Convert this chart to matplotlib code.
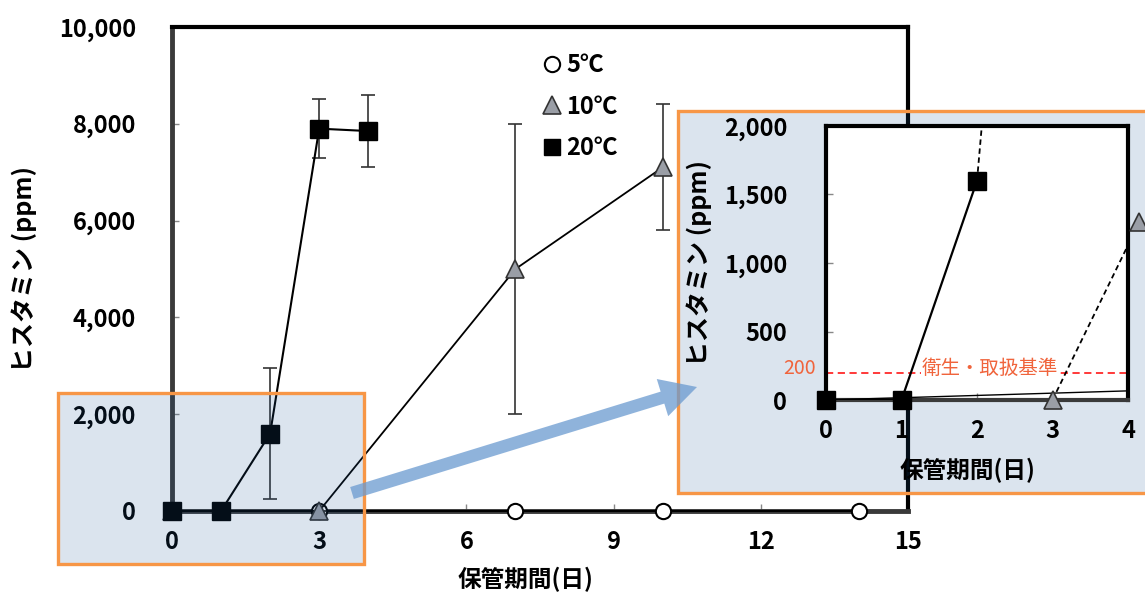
import matplotlib
matplotlib.use("Agg")
import matplotlib.pyplot as plt
from matplotlib.lines import Line2D
from matplotlib.patches import Rectangle, FancyArrowPatch
from matplotlib.ticker import FuncFormatter

plt.rcParams['font.family'] = ['Noto Sans CJK JP', 'DejaVu Sans']

# ---- data ----
days_5c = [0, 3, 7, 10, 14]
vals_5c = [0, 0, 0, 0, 0]

days_10c = [0, 3, 7, 10]
vals_10c = [0, 0, 5000, 7100]
err_10c = [0, 0, 3000, 1300]

days_20c = [0, 1, 2, 3, 4]
vals_20c = [0, 0, 1600, 7900, 7850]
err_20c = [0, 0, 1350, 610, 740]

legend_labels = ['5℃', '10℃', '20℃']
x_ticks_main = [0, 3, 6, 9, 12, 15]
y_ticks_main = [0, 2000, 4000, 6000, 8000, 10000]

# inset (zoom of 0-4 days, 0-2000 ppm)
x_ticks_inset = [0, 1, 2, 3, 4]
y_ticks_inset = [0, 500, 1000, 1500, 2000]
inset_5c_x = [0, 4.2]
inset_5c_y = [0, 70]
inset_10c_x = [3, 4.15]
inset_10c_y = [0, 1300]
standard_value = 200
standard_label = '衛生・取扱基準'

xlabel = '保管期間(日)'
ylabel = 'ヒスタミン (ppm)'

W, H = 1145, 596
fig = plt.figure(figsize=(W / 100, H / 100), dpi=100)


def fx(px):
    return px / W


def fy(py):
    return 1 - py / H


comma_fmt = FuncFormatter(lambda v, p: f'{int(v):,}')

# ---- main axes ----
ax = fig.add_axes([fx(172), fy(511), fx(908) - fx(172), fy(27) - fy(511)])
ax.set_xlim(0, 15)
ax.set_ylim(0, 10000)

ax.plot(days_5c, vals_5c, color='black', lw=1.5, zorder=3, clip_on=False)
ax.plot(days_5c, vals_5c, ls='none', marker='o', ms=11, mfc='white',
        mec='black', mew=1.5, zorder=4, clip_on=False)

ax.errorbar(days_10c, vals_10c, yerr=err_10c, color='black', lw=1.3,
            ecolor='#333333', elinewidth=1.2, capsize=5, capthick=1.2,
            marker='^', ms=13, mfc='#9a9ea6', mec='#333333', mew=1.2,
            zorder=5, clip_on=False)

ax.errorbar(days_20c, vals_20c, yerr=err_20c, color='black', lw=1.5,
            ecolor='#333333', elinewidth=1.2, capsize=5, capthick=1.2,
            marker='s', ms=13, mfc='black', mec='black',
            zorder=6, clip_on=False)

ax.set_xticks(x_ticks_main)
ax.set_yticks(y_ticks_main)
ax.yaxis.set_major_formatter(comma_fmt)
ax.tick_params(direction='in', length=5, width=1, color='#888888',
               labelsize=17, pad=0)
ax.tick_params(axis='y', pad=26)
ax.tick_params(axis='x', pad=14)
for lab in ax.get_xticklabels() + ax.get_yticklabels():
    lab.set_fontweight('bold')

for side in ['top', 'right']:
    ax.spines[side].set_linewidth(3)
    ax.spines[side].set_color('black')
for side in ['left', 'bottom']:
    ax.spines[side].set_linewidth(3.5)
    ax.spines[side].set_color('#3a3a3a')

ax.set_xlabel(xlabel, fontsize=17, fontweight='bold')
ax.xaxis.set_label_coords((525 - 172) / (908 - 172), -(567 - 511) / (511 - 27))
ax.set_ylabel(ylabel, fontsize=18, fontweight='bold')
ax.yaxis.set_label_coords(-(172 - 37) / (908 - 172), 0.5)

handles = [
    Line2D([], [], ls='none', marker='o', ms=11, mfc='white', mec='black', mew=1.5),
    Line2D([], [], ls='none', marker='^', ms=13, mfc='#9a9ea6', mec='#333333', mew=1.2),
    Line2D([], [], ls='none', marker='s', ms=12, mfc='black', mec='black'),
]
leg = ax.legend(handles, legend_labels, loc='upper left',
                bbox_to_anchor=((545 - 172) / (908 - 172), (511 - 53) / (511 - 27)),
                frameon=False, handlelength=0.6, handletextpad=0.3,
                labelspacing=0.75, borderaxespad=0, borderpad=0,
                prop={'size': 17, 'weight': 'bold'})

# ---- highlight boxes ----
box_fill = (0.12, 0.35, 0.60, 0.16)
orange = '#f79646'
fig.patches.append(Rectangle((fx(58), fy(564)), fx(364) - fx(58), fy(393) - fy(564),
                             transform=fig.transFigure, facecolor=box_fill,
                             edgecolor=orange, lw=2.4, zorder=2))
fig.patches.append(Rectangle((fx(678), fy(493)), fx(1160) - fx(678), fy(111) - fy(493),
                             transform=fig.transFigure, facecolor=box_fill,
                             edgecolor=orange, lw=2.4, zorder=2))

arrow = FancyArrowPatch((fx(352), fy(493)), (fx(697), fy(387)),
                        transform=fig.transFigure,
                        arrowstyle='simple,head_width=28,head_length=26,tail_width=9',
                        mutation_scale=1, color='#6a9ad0', alpha=0.75,
                        lw=0, shrinkA=0, shrinkB=0, zorder=3)
fig.patches.append(arrow)

# ---- inset axes ----
ax2 = fig.add_axes([fx(826), fy(400), fx(1128) - fx(826), fy(126) - fy(400)],
                   zorder=5)
ax2.set_xlim(0, 4)
ax2.set_ylim(0, 2000)

ax2.axhline(standard_value, color='#ff2a2a', lw=1.3, ls=(0, (4, 2.5)), zorder=2)
ax2.text(2.17, standard_value + 30, standard_label, color='#f0643c', fontsize=14,
         ha='center', va='center', zorder=3,
         bbox=dict(facecolor='white', edgecolor='none', pad=0.5))
ax2.text(-0.14, standard_value + 30, str(standard_value), color='#f0643c', fontsize=14,
         ha='right', va='center', transform=ax2.transData, clip_on=False)

ax2.plot(inset_5c_x, inset_5c_y, color='black', lw=1.0, zorder=3)
ax2.plot(days_20c[:3], vals_20c[:3], color='black', lw=1.6, zorder=4)
ax2.plot(days_20c[2:4], vals_20c[2:4], color='black', lw=1.3, ls=(0, (3, 2)), zorder=4)
ax2.plot(inset_10c_x, inset_10c_y, color='black', lw=1.3, ls=(0, (3, 2)), zorder=4)
ax2.plot(inset_10c_x, inset_10c_y, ls='none', marker='^', ms=13, mfc='#9a9ea6',
         mec='#333333', mew=1.2, zorder=6, clip_on=False)
ax2.plot(days_20c[:3], vals_20c[:3], ls='none', marker='s', ms=13, mfc='black',
         mec='black', zorder=7, clip_on=False)

ax2.set_xticks(x_ticks_inset)
ax2.set_yticks(y_ticks_inset)
ax2.yaxis.set_major_formatter(comma_fmt)
ax2.tick_params(direction='in', length=5, width=1, color='#888888', labelsize=17)
ax2.tick_params(axis='y', pad=28)
ax2.tick_params(axis='x', pad=14)
for lab in ax2.get_xticklabels() + ax2.get_yticklabels():
    lab.set_fontweight('bold')
for side in ax2.spines:
    ax2.spines[side].set_linewidth(3)
    ax2.spines[side].set_color('black')
ax2.spines['bottom'].set_color('#3a3a3a')

ax2.set_xlabel(xlabel, fontsize=17, fontweight='bold')
ax2.xaxis.set_label_coords((967 - 826) / (1128 - 826), -(458 - 400) / (400 - 126))
ax2.set_ylabel(ylabel, fontsize=18, fontweight='bold')
ax2.yaxis.set_label_coords(-(826 - 712) / (1128 - 826), 0.5)

fig.savefig('out.png', dpi=100)
